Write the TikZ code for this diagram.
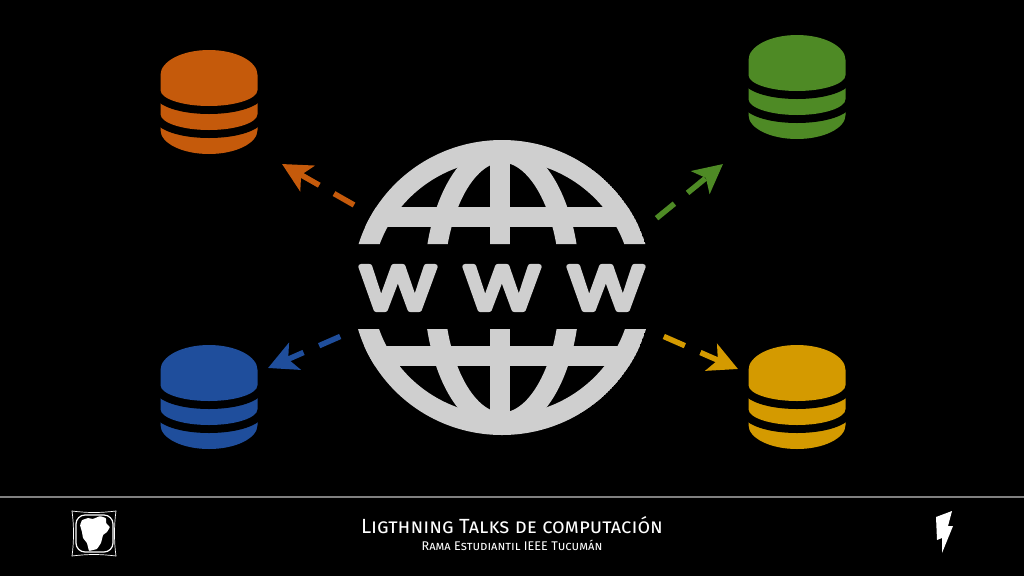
\documentclass[tikz,border=0pt]{standalone}
\usepackage{fontspec}
\setmainfont{Fira Sans}
\newfontfamily\wwwfont{Poppins}[FakeBold=8]
\newfontfamily\capsfont{Fira Sans}[Letters=SmallCaps]
\usetikzlibrary{arrows.meta,calc}
\definecolor{globeGray}{HTML}{CFCFCF}
\definecolor{dbOrange}{HTML}{C55A0B}
\definecolor{dbGreen}{HTML}{4E8A25}
\definecolor{dbBlue}{HTML}{1F4E9C}
\definecolor{dbYellow}{HTML}{D49A00}

\begin{document}
\begin{tikzpicture}[
        x=1pt, y=-1pt,
        flow/.style={-{Stealth[length=29pt,width=29pt,inset=7pt]}, line width=5.5pt, dash pattern=on 23pt off 17pt},
        globeline/.style={draw=globeGray, line width=20pt},
        wletter/.style={text=globeGray, inner sep=0pt, xscale=1.27, font=\wwwfont\fontsize{62}{62}\selectfont},
        tailnode/.style={circle, minimum size=338pt, inner sep=0pt},
        title/.style={text=white, inner sep=0pt, font=\capsfont\fontsize{20.5}{21}\selectfont},
        subtitle/.style={text=white, inner sep=0pt, font=\capsfont\fontsize{12.6}{13}\selectfont},
        database/.pic={
          \foreach \off/\side/\sag in {48/32/24,24/40/16,0/40/16} {
            \path [fill=#1, preaction={draw=black, line width=16pt}] (-48.5,25+\off) -- (-48.5,\side+\off) arc [start angle=180, end angle=360, x radius=48.5, y radius=-\sag] -- (48.5,25+\off) arc [start angle=0, end angle=180, x radius=48.5, y radius=-25] -- cycle;
          }
        },
      ]
      \fill [black] (0,0) rectangle (1024,576);
      \useasboundingbox (0,0) rectangle (1024,576);
      % globe
      \node [tailnode] (web) at (502,287) {};
      \begin{scope}
        \clip (340,130) rectangle (660,244) (340,329) rectangle (660,445);
        \clip (502,287.5) ellipse [x radius=150, y radius=147.5];
        \draw [globeline] (502,287.5) ellipse [x radius=140, y radius=137.5];
        \draw [globeline] (502,287.5) ellipse [x radius=68, y radius=135];
        \draw [globeline] (500,150) -- (500,425);
        \draw [globeline] (345,217) -- (660,217);
        \draw [globeline] (345,355.5) -- (660,355.5);
      \end{scope}
      \node [wletter] (wLeft) at (398,288) {\special{pdf:code 1 j 1 J}W};
      \node [wletter] (wMid) at (502,288) {\special{pdf:code 1 j 1 J}W};
      \node [wletter] (wRight) at (606,288) {\special{pdf:code 1 j 1 J}W};
      % databases
      \pic at (209,50) {database=dbOrange};
      \pic at (797,35) {database=dbGreen};
      \pic at (209,345) {database=dbBlue};
      \pic at (797,345) {database=dbYellow};
      \coordinate (tipOrange) at (282,164);
      \coordinate (tipGreen) at (723,164);
      \coordinate (tipBlue) at (268,368);
      \coordinate (tipYellow) at (738,369);
      \draw [flow, dbOrange] (web.151.6) -- (tipOrange);
      \draw [flow, dbGreen] (web.24.9) -- (tipGreen);
      \draw [flow, dbBlue] (web.197.7) -- (tipBlue);
      \draw [flow, dbYellow] (web.-17.9) -- (tipYellow);
      % footer
      \coordinate (ruleLeft) at (0,497);
      \coordinate (ruleRight) at (1024,497);
      \draw [draw=black!50!white, line width=1.2pt] (ruleLeft) -- (ruleRight);
      \node [title] (talkTitle) at (512,525.5) {Ligthning Talks de computación};
      \node [subtitle] (talkSub) at (512,545) {Rama Estudiantil IEEE Tucumán};
      % logo
      \draw [white, line width=0.7pt] (72,511) .. controls (88,513) and (100,513) .. (116,511) .. controls (114,525) and (114,542) .. (116,556) .. controls (100,554) and (88,554) .. (72,556) .. controls (74,542) and (74,525) .. (72,511) -- cycle;
      \draw [white, line width=1.2pt, rounded corners=9pt] (76,515) rectangle (113,552);
      \fill [white, rounded corners=0.8pt] (82,520) -- (88,518) -- (93,519) -- (100,516) -- (106,518) -- (106,523) -- (110,527) -- (107,532) -- (103,535) -- (101,543) -- (97,549) -- (89,551) -- (87,543) -- (83,538) -- (82,532) -- (80,525) -- cycle;
      \fill [white] (936,517) -- (952,511) -- (948,526) -- (953,526) -- (942,553) -- (942,538) -- (937,540) -- cycle;
    \end{tikzpicture}
\end{document}
